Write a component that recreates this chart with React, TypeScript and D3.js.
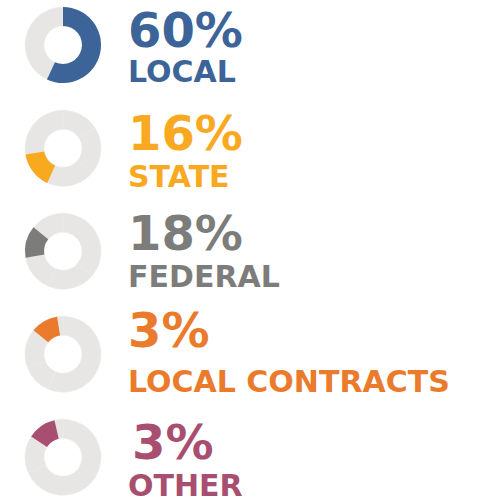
import React, { useEffect, useRef } from "react";
import * as d3 from "d3";

// ---- data ----
const categories = ["LOCAL", "STATE", "FEDERAL", "LOCAL CONTRACTS", "OTHER"];
const percents = [60, 16, 18, 3, 3];
// highlighted arc of each donut, in degrees clockwise from 12 o'clock, as drawn
const arcFrom = [0, 204.5, 260, 309, 303];
const arcTo = [205, 260.5, 309, 351, 347];
// faint seams visible in the grey part of each donut (degrees)
const seams = [[], [58, 130], [130, 202], [203, 249], [246]];

// ---- layout / style (kept apart from the data) ----
const colors = ["#3c6499", "#f8a91f", "#7c7d7b", "#ea7b2c", "#a84f71"];
const trackColor = "#e7e6e4";
const donutCY = [45, 148.3, 251.2, 354.2, 457.3];
const pctBaseline = [46.7, 150, 250, 346.7, 459];
const labelBaseline = [81.7, 186.7, 287.3, 391.7, 495.5];
const pctDx = [0, 0, 0, 0, 4];

const W = 481;
const H = 500;

export default function App() {
  const ref = useRef<SVGSVGElement | null>(null);

  useEffect(() => {
    const svg = d3.select(ref.current);
    svg.selectAll("*").remove();

    const ang = d3.scaleLinear().domain([0, 360]).range([0, 2 * Math.PI]);
    const cx = 63;
    const outerR = 38;
    const innerR = 19;
    const textX = 128;

    const arc = d3.arc<any>().innerRadius(innerR).outerRadius(outerR);

    categories.forEach((cat, i) => {
      const g = svg.append("g").attr("transform", `translate(${cx},${donutCY[i]})`);
      const cuts = [0, ...seams[i], 360];
      for (let k = 0; k < cuts.length - 1; k++) {
        g.append("path")
          .attr("d", arc({ startAngle: ang(cuts[k]), endAngle: ang(cuts[k + 1]) }) as string)
          .attr("fill", trackColor)
          .attr("stroke", "#ebeae8")
          .attr("stroke-width", 0.5);
      }
      g.append("path")
        .attr("d", arc({ startAngle: ang(arcFrom[i]), endAngle: ang(arcTo[i]) }) as string)
        .attr("fill", colors[i]);

      svg.append("text")
        .attr("x", textX + pctDx[i])
        .attr("y", pctBaseline[i])
        .attr("font-family", "'DejaVu Sans', sans-serif")
        .attr("font-weight", 700)
        .attr("font-size", 48)
        .attr("fill", colors[i])
        .text(`${percents[i]}%`);
      svg.append("text")
        .attr("x", textX)
        .attr("y", labelBaseline[i])
        .attr("font-family", "'DejaVu Sans', sans-serif")
        .attr("font-weight", 700)
        .attr("font-size", 30)
        .attr("fill", colors[i])
        .text(cat);
    });
  }, []);

  return (
    <svg
      ref={ref}
      width={W}
      height={H}
      style={{ position: "absolute", left: 0, top: 0, background: "#fff" }}
    />
  );
}
